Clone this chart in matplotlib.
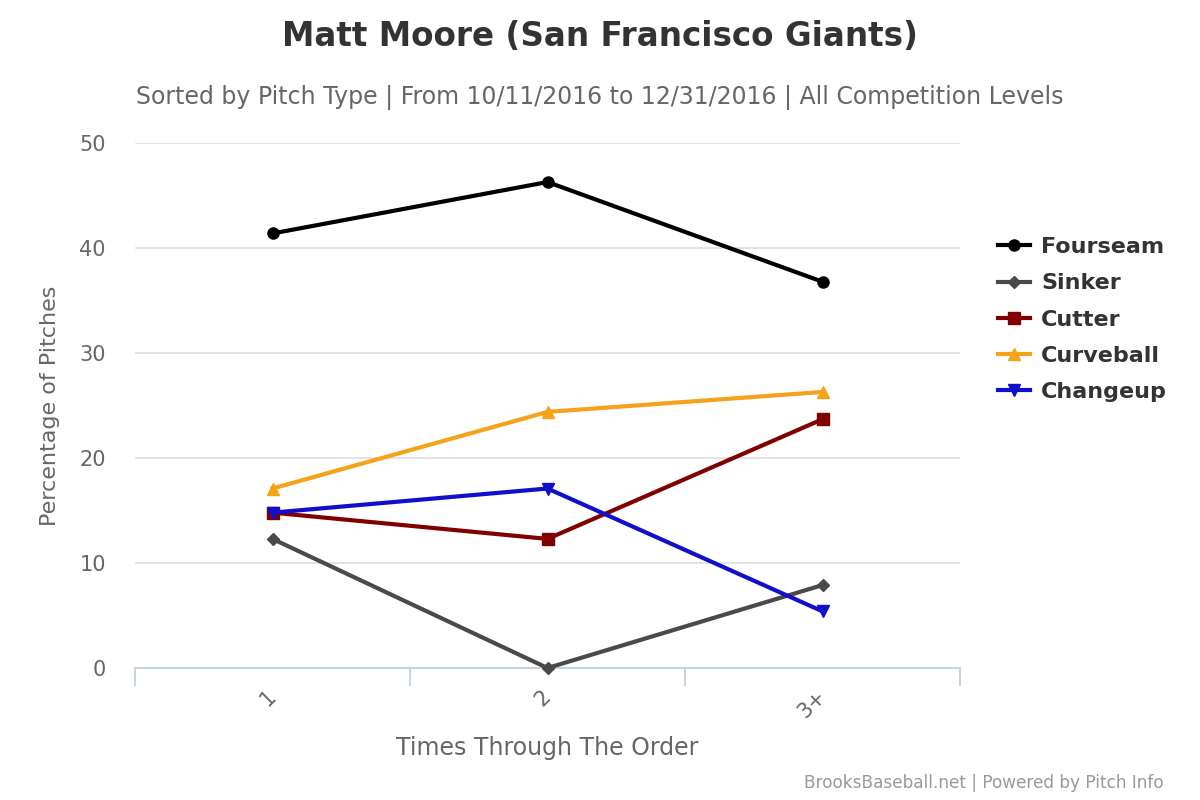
import matplotlib
matplotlib.use("Agg")
import matplotlib.pyplot as plt

# data
orders = ["1", "2", "3+"]
fourseam = [41.4, 46.3, 36.8]
sinker = [12.3, 0.0, 7.9]
cutter = [14.8, 12.3, 23.7]
curveball = [17.1, 24.4, 26.3]
changeup = [14.8, 17.1, 5.4]

series = [
    ("Fourseam", fourseam, "#000000", "o", 8),
    ("Sinker", sinker, "#4a4a4a", "D", 6),
    ("Cutter", cutter, "#800000", "s", 8),
    ("Curveball", curveball, "#f5a31a", "^", 9),
    ("Changeup", changeup, "#1010cc", "v", 9),
]

fig = plt.figure(figsize=(12, 8), dpi=100)
ax = fig.add_axes([0.1125, 0.165, 0.6875, 0.656])

x = list(range(len(orders)))
for name, vals, col, mk, ms in series:
    ax.plot(x, vals, color=col, lw=3, marker=mk, markersize=ms, label=name,
            clip_on=False, zorder=3)

ax.set_xlim(-0.5, 2.5)
ax.set_ylim(0, 50)
ax.set_yticks([0, 10, 20, 30, 40, 50])
ax.grid(axis="y", color="#dde1e6", lw=1.3)
ax.set_axisbelow(True)
for s in ["top", "right", "left"]:
    ax.spines[s].set_visible(False)
ax.spines["bottom"].set_color("#c8d4e0")
ax.spines["bottom"].set_linewidth(1.5)

ax.set_xticks(x)
ax.set_xticklabels(orders, rotation=45, ha="right", va="center", rotation_mode="anchor")
ax.set_xticks([-0.5, 0.5, 1.5, 2.5], minor=True)
ax.tick_params(axis="x", which="major", length=0, pad=18, labelsize=15, labelcolor="#666666")
ax.tick_params(axis="x", which="minor", length=13, width=1.5, color="#c8d4e0")
ax.tick_params(axis="y", length=0, pad=21, labelsize=15, labelcolor="#666666")

ax.set_xlabel("Times Through The Order", fontsize=17, color="#666666", labelpad=10)
ax.set_ylabel("Percentage of Pitches", fontsize=16, color="#666666", labelpad=14)

fig.text(0.5, 0.955, "Matt Moore (San Francisco Giants)", ha="center", va="center",
         fontsize=23.5, fontweight="bold", color="#333333")
fig.text(0.5, 0.878, "Sorted by Pitch Type | From 10/11/2016 to 12/31/2016 | All Competition Levels",
         ha="center", va="center", fontsize=17, color="#666666")
fig.text(0.97, 0.021, "BrooksBaseball.net | Powered by Pitch Info", ha="right", va="center",
         fontsize=12.2, color="#999999")

leg = ax.legend(loc="upper left", bbox_to_anchor=(1.035, 0.838), frameon=False,
                prop={"size": 16, "weight": "bold"}, labelspacing=0.73,
                handlelength=1.45, handletextpad=0.5, borderaxespad=0)
for t in leg.get_texts():
    t.set_color("#333333")

fig.savefig("out.png", dpi=100)
